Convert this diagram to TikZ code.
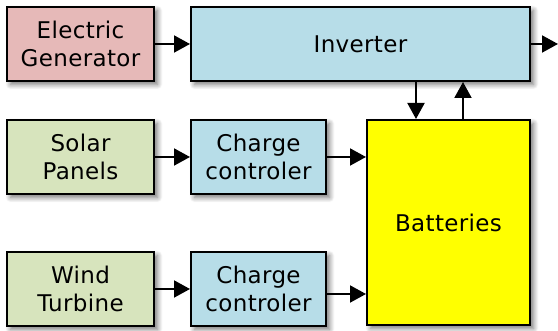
\documentclass[tikz,border=0pt]{standalone}
\usepackage{fontspec}
\setmainfont{DejaVu Sans}[LetterSpace=1.5]
\usetikzlibrary{shadows.blur,arrows.meta}
\definecolor{genpink}{HTML}{E6B9B8}
\definecolor{invblue}{HTML}{B7DDE8}
\definecolor{srcgreen}{HTML}{D7E4BD}
\definecolor{battyellow}{HTML}{FFFF00}
\begin{document}
\begin{tikzpicture}[x=1pt,y=1pt,
  blk/.style={draw=black, line width=2pt, align=center, inner sep=0pt,
    font=\fontsize{23}{27.5}\selectfont,
    blur shadow={shadow xshift=3.5pt, shadow yshift=-3.5pt, shadow blur radius=5pt, shadow blur steps=8, shadow opacity=55}},
  conn/.style={line width=2pt, -{Triangle[length=16pt,width=17pt]}}]
\useasboundingbox (0,0) rectangle (558,331);
\node[blk, fill=genpink, minimum width=147pt, minimum height=74pt] (gen) at (80.5,287) {Electric\\Generator};
\node[blk, fill=invblue, minimum width=339pt, minimum height=74pt] (inv) at (360.5,287) {Inverter};
\node[blk, fill=srcgreen, minimum width=147pt, minimum height=74pt] (sol) at (80.5,174) {Solar\\Panels};
\node[blk, fill=invblue, minimum width=135pt, minimum height=74pt] (cc1) at (258.5,174) {Charge\\controler};
\node[blk, fill=battyellow, minimum width=163pt, minimum height=205pt] (bat) at (448.5,108.5) {Batteries};
\node[blk, fill=srcgreen, minimum width=147pt, minimum height=74pt] (wind) at (80.5,42) {Wind\\Turbine};
\node[blk, fill=invblue, minimum width=135pt, minimum height=74pt] (cc2) at (258.5,42) {Charge\\controler};
\coordinate (out) at (558,287);
\coordinate (dn) at (416,0);
\coordinate (up) at (463,0);
\draw[conn] (gen.east) -- (inv.west);
\draw[conn] (inv.east) -- (out);
\draw[conn] (sol.east) -- (cc1.west);
\draw[conn] (wind.east) -- (cc2.west);
\draw[conn] (cc1.east) -- (cc1.east -| bat.west);
\draw[conn] ([yshift=-5pt]cc2.east) -- ([yshift=-5pt]cc2.east -| bat.west);
\draw[conn] (dn |- inv.south) -- (dn |- bat.north);
\draw[conn] (up |- bat.north) -- (up |- inv.south);
\end{tikzpicture}
\end{document}
